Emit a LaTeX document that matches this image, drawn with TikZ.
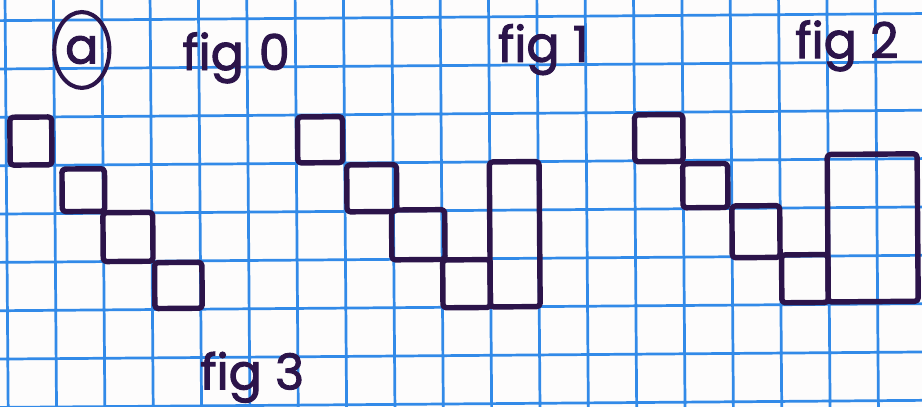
\documentclass[tikz,border=0pt]{standalone}
\usepackage{fontspec}
\newfontfamily\handfont{Poppins}[FakeBold=2]
\usetikzlibrary{shapes.geometric}
\definecolor{gridblue}{RGB}{50,138,232}
\definecolor{ink}{RGB}{44,20,74}
\definecolor{paper}{RGB}{253,252,252}
\begin{document}
\begin{tikzpicture}[x=1cm,y=1cm,
  gridline/.style={gridblue, line width=1.6pt},
  cellbox/.style={ink, line width=3.2pt, line join=round, rounded corners=2pt},
  figlabel/.style={text=ink, font=\fontsize{29}{31}\handfont, anchor=base west, inner sep=0pt},
]
\useasboundingbox (0,0) rectangle (19.07,-8.418);
\clip (0,0) rectangle (19.07,-8.418);
\fill[paper] (0,0) rectangle (19.07,-8.418);
\begin{scope}[shift={(0.1075,-0.426)}, rotate=0.44]
  % graph paper
  \draw[gridline, step=1cm] (-1,-9) grid (20,1);

  % labels
  \node[draw=ink, line width=2.4pt, ellipse, minimum width=1.14cm, minimum height=1.57cm,
        inner sep=0pt, text=ink, font=\fontsize{29}{31}\handfont] (circa) at (1.58,-0.62) {a};
  \node[figlabel] (fig0) at (3.65,-1.05) {fig\hspace{0.3em}0};
  \node[figlabel] (fig1) at (10.18,-0.93) {fig 1};
  \node[figlabel] (fig2) at (16.33,-0.90) {fig 2};
  \node[figlabel] (fig3) at (3.97,-7.66) {fig 3};

  % fig 0 squares
  \draw[cellbox] (0.08,-2.0) rectangle (0.945,-2.99);
  \draw[cellbox] (1.15,-3.08) rectangle (2.03,-3.96);
  \draw[cellbox] (1.99,-3.99) rectangle (3.02,-5.0);
  \draw[cellbox] (3.05,-5.03) rectangle (4.03,-5.98);

  % fig 1 squares
  \draw[cellbox] (6.03,-2.04) rectangle (6.96,-2.99);
  \draw[cellbox] (7.04,-3.04) rectangle (8.07,-4.01);
  \draw[cellbox] (7.96,-3.98) rectangle (9.06,-5.01);
  \draw[cellbox] (9.01,-5.02) rectangle (9.99,-6.01);
  \draw[cellbox] (9.99,-3.0) rectangle (11.02,-6.0);

  % fig 2 squares
  \draw[cellbox] (13.0,-2.05) rectangle (14.0,-3.02);
  \draw[cellbox] (13.99,-3.07) rectangle (14.92,-3.98);
  \draw[cellbox] (15.0,-3.95) rectangle (15.99,-5.02);
  \draw[cellbox] (16.02,-4.97) rectangle (16.98,-5.96);
  \draw[cellbox] (16.98,-2.9) rectangle (18.84,-5.95);
\end{scope}
\end{tikzpicture}
\end{document}
